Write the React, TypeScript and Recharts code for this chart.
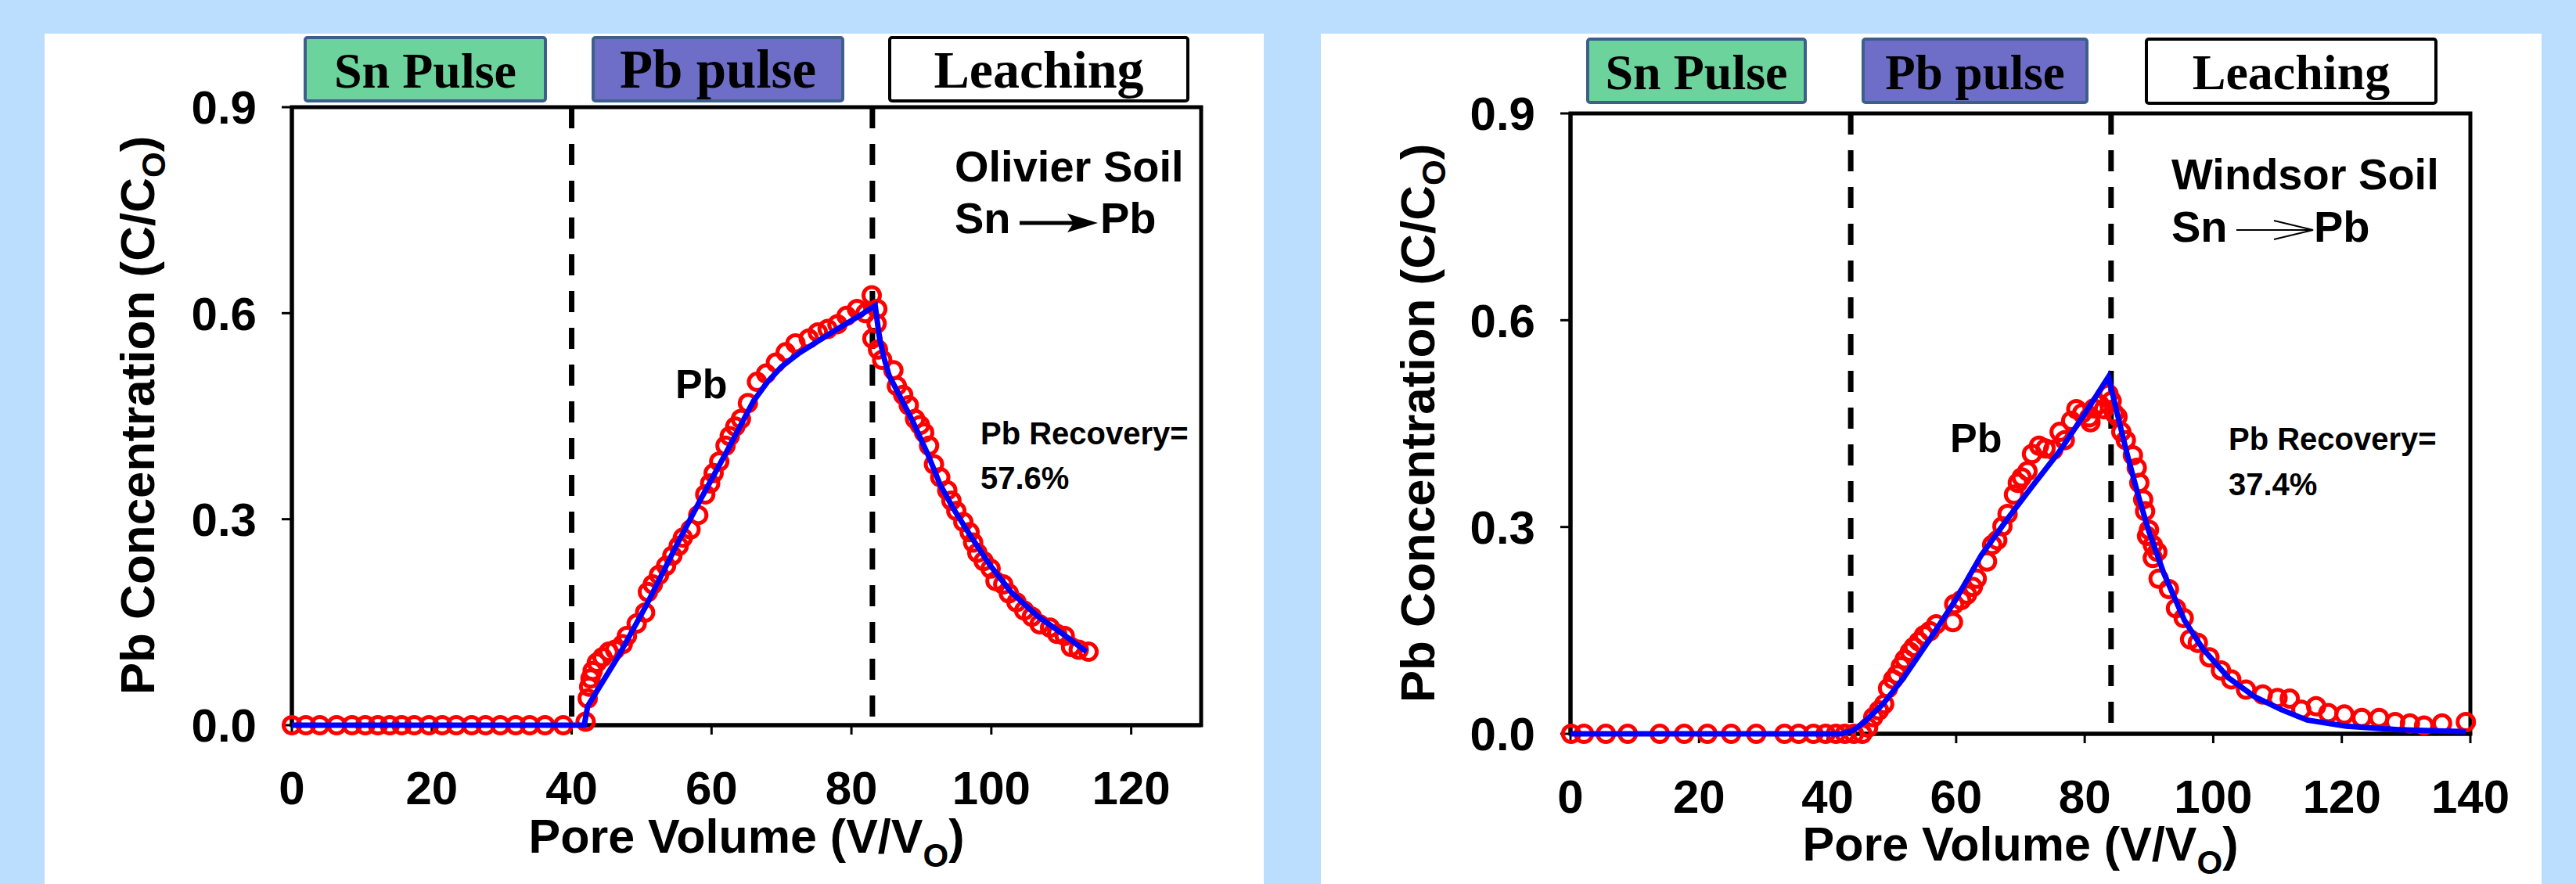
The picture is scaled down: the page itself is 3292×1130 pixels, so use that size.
import React from "react";
import {
  ScatterChart,
  Scatter,
  XAxis,
  YAxis,
  ReferenceLine,
  ReferenceArea,
} from "recharts";

// ---------- data ----------
const olivierObsPV = [0, 2, 4, 6.4, 8.6, 10.5, 12.3, 14, 15.7, 17.5, 19.6, 21.5, 23.5, 25.7, 27.7, 29.8, 32, 34, 36.2, 38.8, 42.0,
  42.3, 42.5, 42.7, 43.0, 43.6, 44.4, 45.3, 46.2, 47.3, 47.9, 49.3, 50.5, 50.9, 51.6, 52.5, 53.5, 54.4, 55.3, 55.9, 57.0,
  58.1, 59.1, 59.8, 60.3, 61.1, 62.0, 62.6, 63.4, 64.2, 65.2, 66.5, 67.8, 69.2, 70.6, 72.0, 73.9, 75.2, 76.6, 78.0, 79.3,
  80.8, 82.0, 82.9, 83.7, 83.0, 83.6, 83.8, 84.4, 86.0,
  86.5, 87.4, 88.2, 89.1, 89.8, 90.4, 91.1, 91.8, 92.7, 93.7, 94.3, 95.0, 96.0, 96.9, 97.4, 98.0, 98.9, 99.9, 100.6, 101.7,
  102.5, 103.6, 104.7, 105.8, 106.9, 108.4, 109.4, 110.5, 111.4, 112.5, 113.9];
const olivierObsC = [0, 0, 0, 0, 0, 0, 0, 0, 0, 0, 0, 0, 0, 0, 0, 0, 0, 0, 0, 0, 0.005,
  0.039, 0.056, 0.068, 0.079, 0.091, 0.099, 0.107, 0.11, 0.118, 0.13, 0.148, 0.164, 0.194, 0.205, 0.219, 0.232, 0.247, 0.261, 0.273, 0.285,
  0.306, 0.336, 0.352, 0.367, 0.384, 0.407, 0.421, 0.435, 0.446, 0.469, 0.5, 0.512, 0.528, 0.543, 0.556, 0.563, 0.572, 0.577, 0.584, 0.596,
  0.606, 0.6, 0.626, 0.606, 0.563, 0.585, 0.547, 0.532, 0.517,
  0.494, 0.481, 0.466, 0.446, 0.437, 0.426, 0.407, 0.38, 0.361, 0.342, 0.327, 0.312, 0.296, 0.281, 0.266, 0.251, 0.239, 0.228, 0.21, 0.205,
  0.192, 0.179, 0.167, 0.158, 0.147, 0.142, 0.133, 0.13, 0.114, 0.11, 0.107];

const olivierFitPV = [0, 41.8, 42.3, 46.6, 50.7, 55.2, 58.5, 62.2, 66, 68, 70, 72.4, 75, 78, 80.8, 83.4, 84.0, 84.6, 85.4, 88.7, 90.9, 92.7, 94.6, 97.2, 99.9, 102.8, 106.6, 110.6, 113.6];
const olivierFitC = [0, 0, 0.028, 0.099, 0.175, 0.266, 0.33, 0.399, 0.472, 0.5, 0.522, 0.541, 0.558, 0.577, 0.594, 0.611, 0.565, 0.537, 0.509, 0.444, 0.395, 0.35, 0.315, 0.273, 0.232, 0.194, 0.159, 0.13, 0.107];

const windsorObsPV = [0.1, 2.1, 5.5, 8.9, 13.9, 17.7, 21.3, 25.0, 28.9, 33.3, 35.5, 37.8, 39.7, 41.3, 42.7, 44.1, 45.4,
  46.3, 47.1, 48.0, 48.8, 49.4, 50.2, 50.8, 51.4, 52.0, 52.8, 53.4, 54.2, 55.0, 55.9, 56.9, 59.5, 59.7, 60.8, 61.7, 62.6,
  63.2, 64.8, 65.6, 66.4, 67.2, 68.0, 69.0, 69.6, 70.2, 71.1, 71.8, 72.9, 73.9, 75.1, 76.1, 76.9, 77.9, 78.7, 79.6, 80.7,
  80.9, 81.4, 82.3, 83.0, 83.7, 84.2, 84.6,
  85.1, 85.7, 86.4, 87.5, 88.1, 88.5, 89.1, 89.4, 90.0, 89.7, 90.6, 91.3, 90.6, 91.5, 93.1, 94.2, 95.4, 96.4, 97.6, 99.4,
  101.2, 102.8, 105.1, 107.7, 110.0, 111.9, 113.7, 116.0, 117.9, 120.4, 123.1, 125.8, 128.3, 130.6, 132.8, 135.6, 139.3];
const windsorObsC = [0, 0, 0, 0, 0, 0, 0, 0, 0, 0, 0, 0, 0, 0, 0, 0, 0,
  0.009, 0.024, 0.034, 0.043, 0.066, 0.079, 0.086, 0.098, 0.108, 0.119, 0.126, 0.134, 0.143, 0.149, 0.159, 0.162, 0.188, 0.194, 0.202, 0.213,
  0.225, 0.25, 0.274, 0.281, 0.301, 0.319, 0.347, 0.364, 0.372, 0.381, 0.406, 0.418, 0.414, 0.412, 0.438, 0.426, 0.454, 0.471, 0.465, 0.459,
  0.452, 0.472, 0.478, 0.471, 0.493, 0.483, 0.465,
  0.46, 0.438, 0.426, 0.404, 0.386, 0.364, 0.34, 0.323, 0.296, 0.287, 0.274, 0.264, 0.255, 0.225, 0.21, 0.182, 0.168, 0.137, 0.132, 0.111,
  0.092, 0.079, 0.064, 0.057, 0.052, 0.051, 0.035, 0.04, 0.03, 0.028, 0.023, 0.023, 0.017, 0.015, 0.012, 0.015, 0.017];

const windsorFitPV = [0, 42.1, 44, 45.7, 48.6, 51.8, 55.9, 59.9, 63.9, 68.0, 72.0, 76.1, 80.2, 83.7, 85.0, 86.6, 88.2, 89.9, 92.3, 95.5, 98.4, 102.4, 106.4, 110.6, 114.6, 120.7, 128.8, 139.3];
const windsorFitC = [0, 0, 0.005, 0.017, 0.043, 0.081, 0.137, 0.194, 0.259, 0.312, 0.361, 0.41, 0.467, 0.518, 0.467, 0.406, 0.35, 0.296, 0.233, 0.165, 0.123, 0.081, 0.054, 0.035, 0.02, 0.011, 0.006, 0.003];

const olivierXTicks = [0, 20, 40, 60, 80, 100, 120];
const windsorXTicks = [0, 20, 40, 60, 80, 100, 120, 140];
const yTicks = [0, 0.3, 0.6, 0.9];
const olivierPulseBounds = [40, 83];
const windsorPulseBounds = [43.6, 84.1];

const zip = (xs: number[], ys: number[]) => xs.map((x, i) => ({ x, y: ys[i] }));

const SANS = "'Liberation Sans', Arial, Helvetica, sans-serif";
const SERIF = "'Liberation Serif', 'Times New Roman', serif";

const Ring = (props: any) => {
  const { cx, cy } = props;
  if (cx == null || cy == null) return <g />;
  return <circle cx={cx} cy={cy} r={10.5} fill="none" stroke="#FF0000" strokeWidth={5} />;
};
const NoShape = () => <g />;

type PanelProps = {
  obs: { x: number; y: number }[];
  fit: { x: number; y: number }[];
  xMax: number;
  xTicks: number[];
  bounds: number[];
  width: number;
  height: number;
  margin: { top: number; right: number; left: number; bottom: number };
};

const Panel = ({ obs, fit, xMax, xTicks, bounds, width, height, margin }: PanelProps) => (
  <ScatterChart width={width} height={height} margin={margin}>
    <XAxis
      type="number"
      dataKey="x"
      domain={[0, xMax]}
      ticks={xTicks}
      interval={0}
      height={110}
      tickSize={12}
      tickMargin={46}
      axisLine={{ stroke: "#000", strokeWidth: 5 }}
      tickLine={{ stroke: "#000", strokeWidth: 3 }}
      tick={{ fill: "#000", fontSize: 60, fontWeight: 700, fontFamily: SANS }}
    />
    <YAxis
      type="number"
      dataKey="y"
      domain={[0, 0.9]}
      ticks={yTicks}
      interval={0}
      width={150}
      tickSize={13}
      tickMargin={32}
      tickFormatter={(v: number) => v.toFixed(1)}
      axisLine={{ stroke: "#000", strokeWidth: 5 }}
      tickLine={{ stroke: "#000", strokeWidth: 3 }}
      tick={{ fill: "#000", fontSize: 60, fontWeight: 700, fontFamily: SANS }}
    />
    <ReferenceArea x1={0} x2={xMax} y1={0} y2={0.9} fill="none" fillOpacity={0} stroke="#000" strokeWidth={5} />
    {bounds.map((b) => (
      <ReferenceLine
        key={b}
        segment={[{ x: b, y: 0.9 }, { x: b, y: 0 }]}
        stroke="#000"
        strokeWidth={7}
        strokeDasharray="27 20"
      />
    ))}
    <Scatter data={obs} dataKey="y" shape={Ring} isAnimationActive={false} />
    <Scatter
      data={fit}
      dataKey="y"
      shape={NoShape}
      line={{ stroke: "#0000FF", strokeWidth: 7 }}
      lineType="joint"
      isAnimationActive={false}
    />
  </ScatterChart>
);

const Box = ({ x, y, w, h, fill, stroke, label, size }: any) => (
  <g>
    <rect x={x} y={y} width={w} height={h} rx={3} fill={fill} stroke={stroke} strokeWidth={4} />
    <text x={x + w / 2} y={y + 64} textAnchor="middle" fontFamily={SERIF} fontWeight={700} fontSize={size} fill="#000">
      {label}
    </text>
  </g>
);

const T = ({ x, y, size, children, anchor }: any) => (
  <text x={x} y={y} fontFamily={SANS} fontWeight={700} fontSize={size} fill="#000" textAnchor={anchor || "start"}>
    {children}
  </text>
);

const Overlay = () => (
  <svg width={3292} height={1130} style={{ position: "absolute", left: 0, top: 0, pointerEvents: "none" }}>
    {/* left panel header boxes */}
    <Box x={390} y={48} w={307} h={81} fill="#6DD39D" stroke="#3D5F8C" label="Sn Pulse" size={64} />
    <Box x={758} y={48} w={319} h={81} fill="#6E6EC8" stroke="#3D5F8C" label="Pb pulse" size={69} />
    <Box x={1137} y={48} w={381} h={81} fill="#FFFFFF" stroke="#000000" label="Leaching" size={68} />
    {/* right panel header boxes */}
    <Box x={2029} y={50} w={278} h={81} fill="#6DD39D" stroke="#3D5F8C" label="Sn Pulse" size={64} />
    <Box x={2381} y={50} w={286} h={81} fill="#6E6EC8" stroke="#3D5F8C" label="Pb pulse" size={63} />
    <Box x={2743} y={50} w={370} h={82} fill="#FFFFFF" stroke="#000000" label="Leaching" size={64} />

    {/* left annotations */}
    <T x={1220} y={232} size={56}>Olivier Soil</T>
    <T x={1220} y={298} size={56}>Sn</T>
    <line x1={1303} y1={285} x2={1372} y2={285} stroke="#000" strokeWidth={5} />
    <polygon points="1364,273 1403,285 1364,297 1372,285" fill="#000" />
    <T x={1406} y={298} size={56}>Pb</T>
    <T x={863} y={509} size={52}>Pb</T>
    <T x={1253} y={568} size={40}>Pb Recovery=</T>
    <T x={1253} y={625} size={40}>57.6%</T>

    {/* right annotations */}
    <T x={2775} y={242} size={56}>Windsor Soil</T>
    <T x={2775} y={309} size={56}>Sn</T>
    <line x1={2858} y1={294} x2={2955} y2={294} stroke="#000" strokeWidth={2} />
    <polyline points="2906,282 2956,294 2906,306" fill="none" stroke="#000" strokeWidth={2} />
    <T x={2957} y={309} size={56}>Pb</T>
    <T x={2492} y={578} size={52}>Pb</T>
    <T x={2848} y={575} size={40}>Pb Recovery=</T>
    <T x={2848} y={633} size={40}>37.4%</T>

    {/* axis titles */}
    <text x={954} y={1090} textAnchor="middle" fontFamily={SANS} fontWeight={700} fontSize={61} fill="#000">
      Pore Volume (V/V<tspan fontSize={42} dy={18}>O</tspan><tspan dy={-18}>)</tspan>
    </text>
    <text x={2582} y={1100} textAnchor="middle" fontFamily={SANS} fontWeight={700} fontSize={61} fill="#000">
      Pore Volume (V/V<tspan fontSize={42} dy={17}>O</tspan><tspan dy={-17}>)</tspan>
    </text>
    <text transform="translate(197,531) rotate(-90)" textAnchor="middle" fontFamily={SANS} fontWeight={700} fontSize={62} fill="#000">
      Pb Concentration (C/C<tspan fontSize={42} dy={14}>O</tspan><tspan dy={-14}>)</tspan>
    </text>
    <text transform="translate(1833,541) rotate(-90)" textAnchor="middle" fontFamily={SANS} fontWeight={700} fontSize={62} fill="#000">
      Pb Concentration (C/C<tspan fontSize={42} dy={14}>O</tspan><tspan dy={-14}>)</tspan>
    </text>
  </svg>
);

export default function App() {
  const olivierObs = zip(olivierObsPV, olivierObsC);
  const olivierFit = zip(olivierFitPV, olivierFitC);
  const windsorObs = zip(windsorObsPV, windsorObsC);
  const windsorFit = zip(windsorFitPV, windsorFitC);
  return (
    <div style={{ position: "absolute", left: 0, top: 0, width: 3292, height: 1130, background: "#BBDDFE", overflow: "hidden" }}>
      <div style={{ position: "absolute", left: 57, top: 43, width: 1558, height: 1087, background: "#FFFFFF" }}>
        <Panel
          obs={olivierObs}
          fit={olivierFit}
          xMax={130}
          xTicks={olivierXTicks}
          bounds={olivierPulseBounds}
          width={1558}
          height={1087}
          margin={{ top: 94, right: 80, left: 166, bottom: 93 }}
        />
      </div>
      <div style={{ position: "absolute", left: 1688, top: 43, width: 1560, height: 1087, background: "#FFFFFF" }}>
        <Panel
          obs={windsorObs}
          fit={windsorFit}
          xMax={140}
          xTicks={windsorXTicks}
          bounds={windsorPulseBounds}
          width={1560}
          height={1087}
          margin={{ top: 102, right: 91, left: 169, bottom: 82 }}
        />
      </div>
      <Overlay />
    </div>
  );
}
